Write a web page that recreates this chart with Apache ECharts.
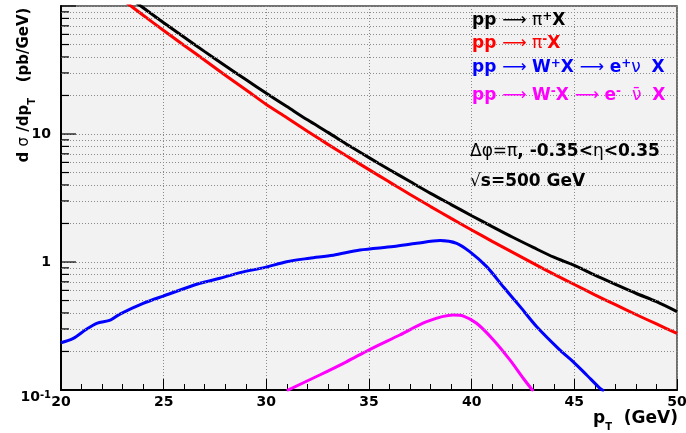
<!DOCTYPE html>
<html><head><meta charset="utf-8">
<script src="https://cdn.jsdelivr.net/npm/echarts@6/dist/echarts.min.js"></script>
<style>html,body{margin:0;padding:0;background:#fff}#c{width:686px;height:433px}</style>
</head><body><div id="c"></div>
<script>
// ---- data ----
const pionPt = [23,24,25,26,27,28,29,30,31,32,33,34,35,36,37,38,39,40,41,42,43,44,45,46,47,48,49,50];
const piPlusVal = [127,96.9,74.1,57.0,44.0,34.1,26.6,20.8,16.4,12.9,10.3,8.17,6.54,5.26,4.25,3.44,2.81,2.30,1.89,1.56,1.30,1.09,0.94,0.79,0.67,0.57,0.49,0.41];
const piMinusVal = [112,84.6,64.4,49.2,37.7,28.8,22.2,17.0,13.4,10.5,8.3,6.6,5.27,4.21,3.37,2.71,2.19,1.78,1.45,1.19,0.975,0.804,0.667,0.554,0.464,0.389,0.328,0.277];
const wPlusPt = [20.0,20.6,21.2,21.74,22.4,22.87,24.0,24.98,26.77,27.74,28.72,29.94,30.99,32.1,33.26,34.56,36.2,37.32,38.46,39.27,39.92,40.73,41.54,42.36,43.17,44.3,44.95,45.6,46.25,46.45];
const wPlusVal = [0.234,0.253,0.295,0.332,0.352,0.392,0.475,0.542,0.682,0.746,0.826,0.908,1.006,1.07,1.13,1.24,1.32,1.40,1.47,1.40,1.20,0.92,0.641,0.448,0.312,0.205,0.166,0.131,0.103,0.098];
const wMinusPt = [31.0,32.6,33.9,35.05,36.5,37.81,39.1,39.6,40.24,41.06,41.87,42.52,43.0];
const wMinusVal = [0.099,0.131,0.166,0.208,0.269,0.342,0.385,0.378,0.332,0.246,0.171,0.123,0.098];
const xTickLabels = [20,25,30,35,40,45,50];
const yMajor = [0.1,1,10,100];
const yMinor = [0.2,0.3,0.4,0.5,0.6,0.7,0.8,0.9,2,3,4,5,6,7,8,9,20,30,40,50,60,70,80,90];
const legendTexts = [
  '{b|pp }{n|⟶ π}{sup|+}{b|X}',
  '{b|pp }{n|⟶ π}{sup|-}{b|X}',
  '{b|pp }{n|⟶ }{b|W}{sup|+}{b|X }{n|⟶ }{b|e}{sup|+}{n|ν  }{b|X}',
  '{b|pp }{n|⟶ }{b|W}{sup|-}{b|X }{n|⟶ }{b|e}{sup|-}{n|  ν̄  }{b|X}'
];
const legendColors = ['#000000','#ff0000','#0000ff','#ff00ff'];
const noteTexts = ['{n|Δφ=π}{b|, -0.35<}{n|η}{b|<0.35}', '{n|√}{b|s=500 GeV}'];
const yTitle = '{b|d }{n|σ}{b| /dp}{sub|T}{b|   (pb/GeV)}';
const xTitle = '{b|p}{sub|T}{b|  (GeV)}';

// ---- chart ----
const FF = 'DejaVu Sans';
function richFor(color, size) {
  return {
    b: {fontFamily: FF, fontWeight: 'bold', fontSize: size, fill: color, lineHeight: 27},
    n: {fontFamily: FF, fontWeight: 'normal', fontSize: size, fill: color, lineHeight: 27},
    sup: {fontFamily: FF, fontWeight: 'bold', fontSize: 12, fill: color, lineHeight: 12, verticalAlign: 'top', padding: [4,0,0,0]},
    sub: {fontFamily: FF, fontWeight: 'bold', fontSize: 10, fill: color, lineHeight: 10, verticalAlign: 'bottom'}
  };
}
const legendTops = [7, 30, 54, 82];
const graphics = [];
legendTexts.forEach((t, i) => {
  graphics.push({type: 'text', left: 472, top: legendTops[i], z: 10,
    style: {text: t, rich: richFor(legendColors[i], 17)}});
});
[143, 173].forEach((tp, i) => {
  graphics.push({type: 'text', left: 470, top: tp, z: 10,
    style: {text: noteTexts[i], rich: richFor('#000', 17)}});
});
graphics.push({type: 'text', x: 24, y: 85, rotation: Math.PI / 2, z: 10,
  style: {text: yTitle, rich: richFor('#000', 15), align: 'center', verticalAlign: 'middle'}});
graphics.push({type: 'text', left: 593, top: 410, z: 10,
  style: {text: xTitle, rich: richFor('#000', 17)}});

const chart = echarts.init(document.getElementById('c'), null, {renderer: 'canvas'});
const gridLine = {color: '#8a8a8a', width: 1, type: [1, 2]};
chart.setOption({
  animation: false,
  backgroundColor: '#ffffff',
  grid: {left: 61, right: 9, top: 6, bottom: 43, show: true, backgroundColor: '#f2f2f2',
    borderColor: '#444', borderWidth: 1.5, outerBoundsMode: 'none', containLabel: false},
  xAxis: {
    type: 'value', min: 20, max: 50, interval: 5,
    axisLine: {show: true, onZero: false, lineStyle: {color: '#000', width: 2}},
    axisTick: {show: true, inside: true, length: 11, lineStyle: {color: '#000', width: 1}},
    minorTick: {show: true, splitNumber: 5, length: 6, lineStyle: {color: '#000', width: 1}},
    splitLine: {show: true, lineStyle: gridLine},
    axisLabel: {show: true, margin: 5, color: '#000', fontFamily: FF, fontWeight: 'bold', fontSize: 14,
      formatter: v => (xTickLabels.indexOf(v) >= 0 ? String(v) : ''), hideOverlap: false}
  },
  yAxis: {
    type: 'log', min: 0.1, max: 100, logBase: 10,
    axisLine: {show: true, onZero: false, lineStyle: {color: '#000', width: 2}},
    axisTick: {show: false},
    splitLine: {show: true, lineStyle: gridLine},
    axisLabel: {show: true, margin: 10, color: '#000', fontFamily: FF, fontWeight: 'bold', fontSize: 14,
      formatter: v => {
        if (Math.abs(v - 0.1) < 1e-9) return '{p|10}{s|-1}';
        if (Math.abs(v - 1) < 1e-9) return '1';
        if (Math.abs(v - 10) < 1e-9) return '10';
        return '';
      },
      rich: {
        p: {fontFamily: FF, fontWeight: 'bold', fontSize: 14, color: '#000', padding: [14,0,0,0]},
        s: {fontFamily: FF, fontWeight: 'bold', fontSize: 10, color: '#000', verticalAlign: 'top', padding: [14,0,0,0]}
      }
    }
  },
  graphic: {elements: graphics},
  series: [
    {
      type: 'line', z: 1, silent: true, data: [], showSymbol: false,
      markLine: {silent: true, symbol: 'none', label: {show: false}, animation: false,
        lineStyle: gridLine, emphasis: {disabled: true},
        data: yMinor.map(v => ({yAxis: v}))}
    },
    {
      type: 'custom', z: 6, silent: true, clip: false,
      encode: {x: 0, y: 1},
      data: yMajor.concat(yMinor).map(v => [20, v]),
      renderItem: (params, api) => {
        const v = api.value(1);
        const p = api.coord([20, v]);
        const len = yMajor.indexOf(v) >= 0 ? 15 : 8;
        return {type: 'line', shape: {x1: p[0], y1: p[1], x2: p[0] + len, y2: p[1]},
          style: {stroke: '#000', lineWidth: 1.2}};
      }
    },
    {type: 'line', z: 3, name: 'pi+', data: pionPt.map((x, i) => [x, piPlusVal[i]]), smooth: 0.3,
      showSymbol: false, lineStyle: {color: '#000000', width: 3}, itemStyle: {color: '#000'}},
    {type: 'line', z: 3, name: 'pi-', data: pionPt.map((x, i) => [x, piMinusVal[i]]), smooth: 0.3,
      showSymbol: false, lineStyle: {color: '#ff0000', width: 3}, itemStyle: {color: '#f00'}},
    {type: 'line', z: 3, name: 'W+', data: wPlusPt.map((x, i) => [x, wPlusVal[i]]), smooth: 0.3,
      showSymbol: false, lineStyle: {color: '#0000ff', width: 3}, itemStyle: {color: '#00f'}},
    {type: 'line', z: 3, name: 'W-', data: wMinusPt.map((x, i) => [x, wMinusVal[i]]), smooth: 0.3,
      showSymbol: false, lineStyle: {color: '#ff00ff', width: 3}, itemStyle: {color: '#f0f'}}
  ]
});
</script></body></html>
